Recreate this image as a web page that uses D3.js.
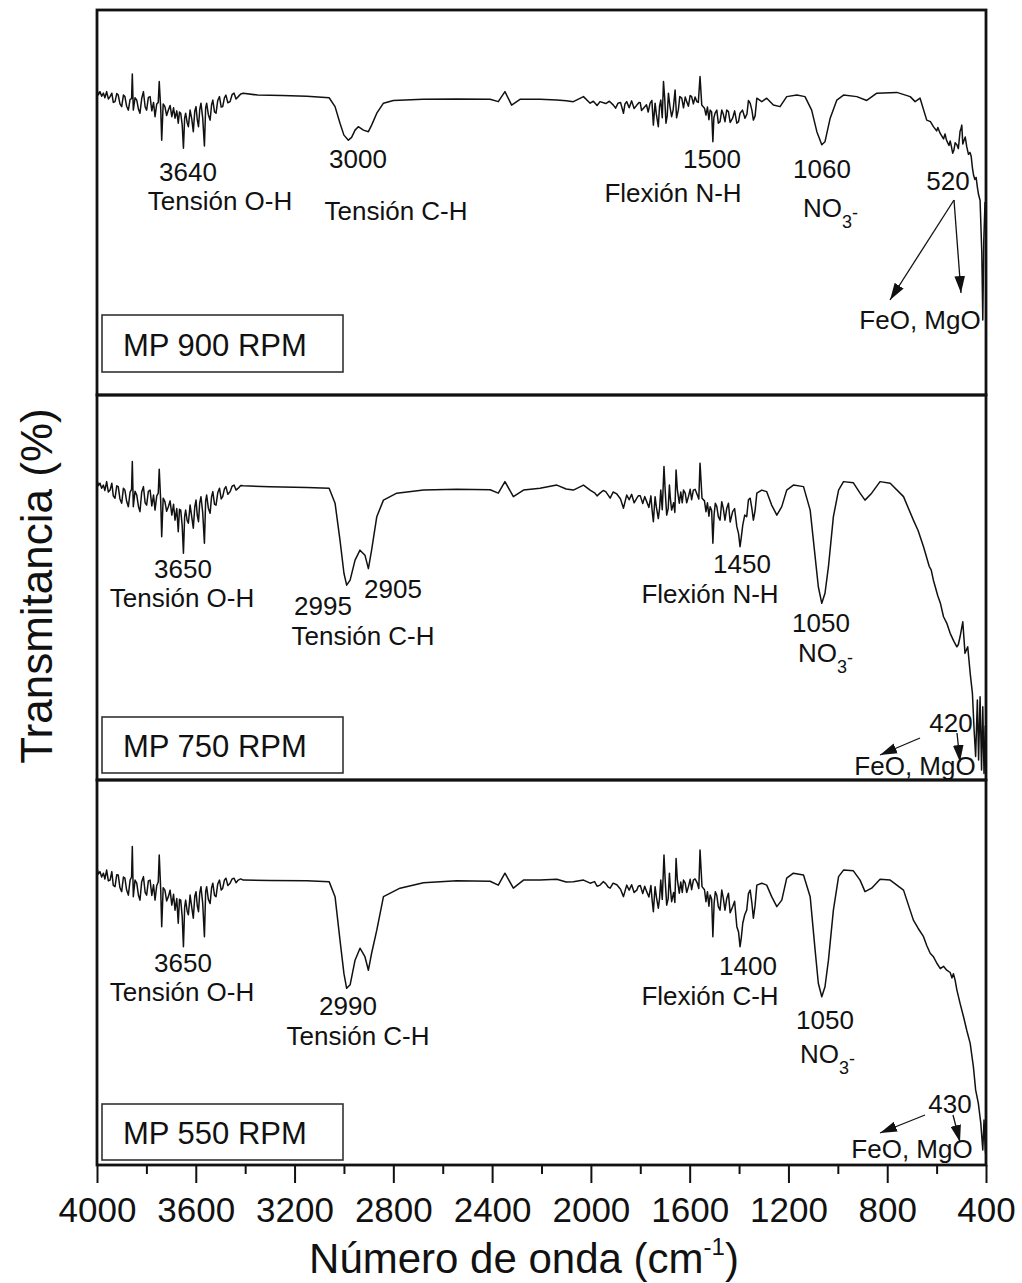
<!DOCTYPE html>
<html>
<head>
<meta charset="utf-8">
<script src="https://cdn.jsdelivr.net/npm/d3@7"></script>
<style>
  body { margin: 0; background: #fff; }
  svg { display: block; }
  text { font-family: "Liberation Sans", Arial, Helvetica, sans-serif; fill: #111; }
</style>
</head>
<body>
<svg id="chart" width="1022" height="1283"></svg>
<script>
// ---------- Data: FTIR spectra (wavenumber cm-1, transmittance %) ----------
const wavenumberTicks = [4000, 3600, 3200, 2800, 2400, 2000, 1600, 1200, 800, 400];
const minorTicks = [3800, 3400, 3000, 2600, 2200, 1800, 1400, 1000, 600];
const sampleNames = ["MP 900 RPM", "MP 750 RPM", "MP 550 RPM"];

const spectrum900 = [
  [4000,79.2],[3994,78.0],[3988,78.8],[3981,77.6],[3974,78.4],[3968,77.2],[3961,78.8],[3954,76.9],
  [3947,77.5],[3940,78.4],[3934,76.0],[3927,76.2],[3920,78.3],[3914,77.9],[3907,75.6],[3900,74.9],
  [3893,77.9],[3887,77.5],[3880,75.0],[3873,74.0],[3866,76.8],[3860,77.0],[3857,83.4],[3853,74.0],
  [3846,77.2],[3839,76.6],[3832,74.2],[3826,73.2],[3819,77.0],[3812,78.8],[3805,74.8],[3799,74.0],
  [3792,77.3],[3785,77.5],[3778,73.8],[3771,76.0],[3765,72.3],[3758,75.6],[3752,76.0],[3748,81.4],
  [3742,74.5],[3738,66.2],[3732,75.6],[3725,74.9],[3718,72.6],[3711,74.0],[3704,75.2],[3697,72.3],
  [3690,74.6],[3684,71.9],[3677,73.8],[3671,70.6],[3666,73.5],[3661,73.2],[3655,70.2],[3650,64.1],
  [3645,72.0],[3641,73.2],[3635,70.8],[3630,69.7],[3623,74.0],[3616,71.6],[3610,68.4],[3604,73.8],
  [3599,74.9],[3594,71.5],[3589,69.7],[3584,74.1],[3579,75.8],[3572,72.0],[3565,64.7],[3560,74.6],
  [3556,75.8],[3549,72.8],[3542,71.4],[3536,75.4],[3531,76.6],[3524,73.5],[3518,73.2],[3511,76.5],
  [3504,77.5],[3497,74.8],[3491,74.9],[3484,77.2],[3478,77.9],[3470,75.9],[3461,76.2],[3453,78.0],
  [3445,78.4],[3437,76.9],[3428,77.5],[3418,78.2],[3408,78.4],
  [3350,77.9],[3250,77.8],[3150,77.6],[3060,77.2],[3036,74.9],[3016,70.6],
  [3000,67.5],[2982,66.2],[2969,66.9],[2955,68.8],[2942,69.7],[2921,68.8],[2901,68.4],[2888,70.1],
  [2867,73.2],[2840,75.8],[2800,76.5],[2680,76.8],[2543,76.9],[2408,76.8],[2375,76.2],[2348,78.8],
  [2321,75.3],[2287,76.8],[2206,76.8],[2138,76.6],[2100,76.4],[2071,76.2],[2030,77.5],[2003,75.8],
  [1990,76.3],[1975,75.2],[1963,76.2],[1940,75.7],[1925,76.3],[1909,75.3],[1900,74.5],[1890,75.8],
  [1880,76.0],[1868,73.2],[1862,75.6],[1855,76.2],[1845,74.6],[1835,76.4],[1825,74.4],[1814,75.3],
  [1805,76.0],[1800,75.9],[1795,73.9],[1787,74.5],[1775,75.4],[1768,73.5],[1760,75.8],[1753,76.5],
  [1747,70.1],[1740,75.8],[1735,73.0],[1727,69.7],[1722,75.0],[1717,76.6],[1711,72.0],[1706,81.4],
  [1701,77.0],[1696,70.6],[1691,72.5],[1686,78.4],[1680,75.0],[1673,72.3],[1667,74.0],[1659,79.2],
  [1653,72.0],[1646,74.0],[1640,77.5],[1632,77.1],[1625,74.6],[1618,77.4],[1612,76.2],[1605,75.0],
  [1598,77.8],[1592,77.5],[1585,75.6],[1578,77.4],[1571,76.2],[1565,76.0],[1558,82.7],[1551,75.3],
  [1540,74.5],[1534,72.7],[1528,74.8],[1522,71.5],[1517,74.0],[1511,73.5],[1506,65.8],[1502,72.0],
  [1497,73.2],[1490,74.0],[1484,70.6],[1477,71.0],[1470,74.0],[1464,73.0],[1457,71.0],[1450,74.0],
  [1443,73.6],[1436,70.8],[1426,71.9],[1418,73.8],[1409,70.6],[1402,71.0],[1396,73.2],[1386,74.0],
  [1376,71.9],[1368,73.0],[1362,76.5],[1355,75.8],[1348,74.0],[1342,71.4],[1335,72.5],[1328,77.1],
  [1308,76.2],[1288,77.1],[1261,75.3],[1234,74.9],[1207,77.5],[1166,77.9],[1133,77.5],
  [1106,74.0],[1085,68.4],[1065,65.0],[1052,65.8],[1031,71.9],[1004,76.6],[977,77.9],[923,77.5],
  [883,76.5],[842,78.4],[761,78.6],[707,77.5],[687,76.2],[667,77.1],[640,71.4],[625,71.0],
  [613,69.7],[600,68.6],[595,69.5],[586,68.0],[572,66.5],[566,67.8],[560,66.2],[550,64.8],
  [545,66.0],[540,64.5],[535,62.8],[530,63.6],[525,65.5],[518,65.0],[512,64.0],[505,68.5],
  [502,69.0],[498,70.1],[494,65.2],[490,66.0],[484,67.0],[478,64.5],[471,62.5],[465,63.0],
  [460,62.0],[455,59.0],[450,57.0],[445,56.0],[440,56.5],[435,54.0],[430,52.0],[424,50.6],
  [417,37.0],[413,19.5],[409,40.0],[404,50.0],[400,46.0]
];

const spectrum750 = [
  [4000,77.9],[3994,76.5],[3988,77.1],[3981,75.8],[3974,76.6],[3968,75.2],[3961,77.5],[3954,74.8],
  [3947,75.3],[3940,77.1],[3934,73.8],[3927,73.2],[3920,76.4],[3914,76.2],[3907,73.0],[3900,71.9],
  [3893,75.8],[3887,75.3],[3880,72.4],[3873,71.0],[3866,74.8],[3860,75.5],[3857,82.7],[3853,71.0],
  [3846,75.0],[3839,74.0],[3832,71.0],[3826,69.7],[3819,74.8],[3812,76.2],[3805,72.0],[3799,71.4],
  [3792,75.0],[3785,75.3],[3778,71.2],[3771,74.0],[3765,70.1],[3758,73.8],[3752,74.5],[3748,80.7],
  [3742,72.5],[3738,63.2],[3732,73.2],[3725,72.3],[3718,69.8],[3711,71.0],[3704,72.5],[3697,68.8],
  [3690,71.6],[3684,67.5],[3677,70.5],[3671,64.5],[3666,70.3],[3661,70.1],[3655,66.0],[3650,58.9],
  [3645,68.5],[3641,70.1],[3635,67.4],[3630,66.7],[3623,71.4],[3616,68.2],[3610,65.4],[3604,71.0],
  [3599,72.7],[3594,68.8],[3589,67.1],[3584,72.0],[3579,73.6],[3572,69.5],[3565,61.5],[3560,72.5],
  [3556,74.0],[3549,70.6],[3542,69.3],[3536,73.6],[3531,74.9],[3524,71.6],[3518,71.4],[3511,74.6],
  [3504,75.8],[3497,73.0],[3491,73.6],[3484,75.6],[3478,76.2],[3470,74.2],[3461,74.9],[3453,76.3],
  [3445,76.6],[3437,75.3],[3428,75.8],[3418,76.5],[3408,76.4],
  [3300,76.2],[3150,76.0],[3060,75.8],[3036,71.9],[3016,62.3],[3000,53.7],
  [2989,50.6],[2975,51.9],[2955,57.1],[2935,59.7],[2915,58.4],[2901,54.9],[2888,59.7],[2867,68.4],
  [2840,72.7],[2786,74.5],[2678,75.3],[2543,75.5],[2408,75.4],[2375,74.5],[2348,77.5],[2314,73.6],
  [2273,75.3],[2206,75.8],[2138,76.6],[2100,75.6],[2071,75.3],[2030,76.6],[2003,75.3],[1985,74.6],
  [1975,73.8],[1963,74.5],[1950,75.2],[1940,74.9],[1930,74.0],[1922,73.2],[1910,74.8],[1895,74.3],
  [1880,73.0],[1868,70.6],[1855,74.0],[1845,72.8],[1835,74.2],[1825,72.0],[1814,73.2],[1808,73.8],
  [1800,73.8],[1790,71.8],[1782,73.6],[1774,72.3],[1765,70.8],[1757,73.8],[1752,70.0],[1747,67.1],
  [1740,73.6],[1735,71.0],[1727,67.9],[1722,70.5],[1717,75.3],[1711,70.2],[1704,81.4],[1699,75.0],
  [1693,68.8],[1687,70.5],[1682,76.6],[1678,73.0],[1673,70.1],[1665,72.0],[1660,69.5],[1655,80.5],
  [1650,75.5],[1642,71.9],[1636,74.8],[1630,72.0],[1625,75.3],[1618,74.5],[1612,72.0],[1605,73.6],
  [1598,75.5],[1592,72.8],[1585,75.3],[1578,75.5],[1569,74.0],[1563,73.0],[1558,82.3],[1550,73.2],
  [1540,72.5],[1534,69.7],[1528,72.0],[1522,68.5],[1517,71.0],[1511,70.0],[1506,61.5],[1501,69.0],
  [1496,71.9],[1490,71.0],[1484,68.4],[1477,67.5],[1470,72.3],[1464,70.6],[1457,67.5],[1450,70.5],
  [1443,71.9],[1436,67.0],[1426,69.7],[1418,70.5],[1409,65.8],[1402,64.0],[1396,60.6],[1391,63.0],
  [1385,66.2],[1377,68.8],[1369,68.4],[1362,72.8],[1355,73.2],[1348,70.5],[1342,67.5],[1335,70.0],
  [1328,74.5],[1308,75.3],[1288,74.9],[1268,71.4],[1247,68.8],[1227,71.0],[1207,75.3],[1180,76.6],
  [1139,76.2],[1112,70.1],[1092,58.0],[1079,50.2],[1065,45.9],[1052,48.5],[1038,55.4],[1018,68.4],
  [997,75.3],[977,77.5],[937,77.2],[910,74.5],[890,72.7],[863,74.5],[829,77.5],[788,77.1],
  [734,73.6],[694,67.5],[675,64.8],[653,60.6],[630,55.5],[622,54.6],[613,51.9],[595,47.8],
  [585,46.0],[572,42.4],[558,40.6],[545,38.1],[530,36.0],[518,34.6],[512,35.2],[505,37.2],
  [494,41.1],[485,32.9],[474,34.6],[464,27.7],[455,22.5],[448,12.8],[442,6.1],[435,20.8],
  [430,5.2],[424,21.6],[418,2.6],[413,19.0],[408,1.7],[403,14.0],[400,8.0]
];

const spectrum550 = [
  [4000,77.1],[3994,75.6],[3988,76.2],[3981,74.8],[3974,75.8],[3968,74.3],[3961,76.6],[3954,73.8],
  [3947,74.0],[3940,76.2],[3934,72.6],[3927,72.3],[3920,75.4],[3914,75.3],[3907,72.0],[3900,71.0],
  [3893,74.8],[3887,74.5],[3880,71.4],[3873,70.1],[3866,74.0],[3860,74.8],[3857,82.7],[3853,69.7],
  [3846,74.0],[3839,73.2],[3832,70.0],[3826,68.8],[3819,73.6],[3812,74.9],[3805,70.8],[3799,70.1],
  [3792,73.8],[3785,74.0],[3778,70.0],[3771,72.8],[3765,68.8],[3758,72.6],[3752,73.5],[3748,80.5],
  [3742,71.5],[3738,61.9],[3732,72.0],[3725,71.4],[3718,68.6],[3711,69.7],[3704,71.4],[3697,67.5],
  [3690,70.3],[3684,66.2],[3677,69.2],[3671,62.8],[3666,69.0],[3661,68.8],[3655,64.5],[3650,56.7],
  [3645,67.0],[3641,68.8],[3635,66.0],[3630,65.0],[3623,70.1],[3616,66.8],[3610,64.1],[3604,69.8],
  [3599,71.0],[3594,67.4],[3589,65.8],[3584,70.6],[3579,72.3],[3572,68.0],[3565,59.3],[3560,71.0],
  [3556,72.3],[3549,69.0],[3542,67.9],[3536,72.0],[3531,73.2],[3524,70.0],[3518,69.7],[3511,73.0],
  [3504,74.0],[3497,71.4],[3491,71.9],[3484,74.0],[3478,74.5],[3470,72.6],[3461,73.2],[3453,74.3],
  [3445,74.5],[3437,73.3],[3428,74.0],[3418,74.3],[3408,74.0],
  [3300,73.9],[3150,73.8],[3060,73.6],[3036,69.7],[3016,58.4],[3000,49.7],
  [2989,45.9],[2975,46.8],[2955,53.2],[2935,56.3],[2915,54.1],[2901,50.6],[2888,55.0],[2867,61.0],
  [2840,69.7],[2773,71.9],[2678,73.3],[2543,73.8],[2408,73.7],[2375,72.7],[2348,75.8],[2314,71.9],
  [2273,74.0],[2206,74.0],[2138,74.2],[2100,73.5],[2071,73.6],[2030,74.0],[2003,73.2],[1985,73.6],
  [1975,72.4],[1963,72.7],[1950,73.6],[1940,73.1],[1930,72.2],[1922,71.9],[1910,73.2],[1895,72.8],
  [1880,71.6],[1868,69.7],[1855,72.7],[1845,71.4],[1835,72.8],[1825,70.8],[1814,71.4],[1808,72.4],
  [1800,72.6],[1790,70.5],[1782,72.4],[1774,71.0],[1765,69.6],[1757,72.6],[1752,68.8],[1747,65.8],
  [1740,72.3],[1735,69.8],[1727,66.7],[1722,69.2],[1717,74.0],[1711,69.0],[1704,80.5],[1699,73.8],
  [1693,67.5],[1687,69.2],[1682,75.8],[1678,71.8],[1673,68.4],[1665,70.8],[1660,68.2],[1655,79.6],
  [1650,74.2],[1642,70.6],[1636,73.5],[1630,70.8],[1625,74.0],[1618,73.2],[1612,70.8],[1605,72.3],
  [1598,74.2],[1592,71.5],[1585,74.0],[1578,74.3],[1569,73.2],[1563,71.8],[1558,81.8],[1550,72.3],
  [1540,71.5],[1534,68.4],[1528,71.0],[1522,67.2],[1517,70.1],[1511,69.0],[1506,59.3],[1501,68.0],
  [1496,71.0],[1490,70.0],[1484,67.1],[1477,66.2],[1470,71.4],[1464,69.4],[1457,66.2],[1450,69.2],
  [1443,70.6],[1436,65.5],[1426,67.1],[1418,68.5],[1409,61.9],[1402,60.5],[1396,56.7],[1391,59.0],
  [1385,62.8],[1377,65.0],[1369,66.2],[1362,70.5],[1355,71.4],[1348,68.0],[1342,64.1],[1335,67.5],
  [1328,72.7],[1308,73.2],[1288,72.7],[1268,69.7],[1247,67.1],[1227,68.8],[1207,74.5],[1180,75.8],
  [1139,75.3],[1112,69.7],[1092,55.8],[1079,47.2],[1065,43.7],[1052,46.3],[1038,53.2],[1018,66.2],
  [997,74.9],[977,76.6],[937,76.4],[910,74.0],[890,71.0],[863,71.9],[829,74.2],[788,74.0],
  [734,71.4],[694,63.6],[675,61.5],[653,59.3],[640,57.0],[626,55.0],[612,54.0],[599,52.4],
  [585,51.0],[572,51.6],[559,50.6],[545,50.0],[538,48.6],[532,49.7],[525,48.0],[518,45.5],
  [505,42.0],[491,38.5],[478,35.0],[464,31.6],[451,25.5],[442,19.5],[431,16.0],[421,10.8],
  [413,3.9],[408,11.7],[403,4.0],[400,2.0]
];

// ---------- Layout ----------
const plotLeft = 97, plotRight = 986;
const panelEdges = [10, 395, 780, 1165];
const fontMain = 26;

const svg = d3.select("#chart");
const x = d3.scaleLinear().domain([4000, 400]).range([plotLeft, plotRight]);

const defs = svg.append("defs");
defs.append("marker")
  .attr("id", "arrowhead")
  .attr("viewBox", "0 0 16 10")
  .attr("refX", 16).attr("refY", 5)
  .attr("markerUnits", "userSpaceOnUse")
  .attr("markerWidth", 17).attr("markerHeight", 11)
  .attr("orient", "auto")
  .append("path").attr("d", "M0,0 L16,5 L0,10 Z").attr("fill", "#111");

// Peak annotations per panel (page pixel layout)
const annotations = [
  [
    {t: "3640", x: 188, y: 181}, {t: "Tensión O-H", x: 220, y: 210},
    {t: "3000", x: 358, y: 168}, {t: "Tensión C-H", x: 396, y: 220},
    {t: "1500", x: 712, y: 168}, {t: "Flexión N-H", x: 673, y: 202},
    {t: "1060", x: 822, y: 178}, {no3: true, x: 803, y: 217},
    {t: "520", x: 948, y: 190}, {t: "FeO, MgO", x: 920, y: 329}
  ],
  [
    {t: "3650", x: 183, y: 578}, {t: "Tensión O-H", x: 182, y: 607},
    {t: "2995", x: 323, y: 615}, {t: "2905", x: 393, y: 598},
    {t: "Tensión C-H", x: 363, y: 645},
    {t: "1450", x: 742, y: 573}, {t: "Flexión N-H", x: 710, y: 603},
    {t: "1050", x: 821, y: 632}, {no3: true, x: 798, y: 662},
    {t: "420", x: 951, y: 732}, {t: "FeO, MgO", x: 915, y: 775}
  ],
  [
    {t: "3650", x: 183, y: 972}, {t: "Tensión O-H", x: 182, y: 1001},
    {t: "2990", x: 348, y: 1015}, {t: "Tensión C-H", x: 358, y: 1045},
    {t: "1400", x: 748, y: 975}, {t: "Flexión C-H", x: 710, y: 1005},
    {t: "1050", x: 825, y: 1029}, {no3: true, x: 800, y: 1063},
    {t: "430", x: 950, y: 1113}, {t: "FeO, MgO", x: 912, y: 1158}
  ]
];
const arrows = [
  [[954, 200, 890, 300], [954, 200, 961, 293]],
  [[920, 738, 880, 755], [957, 733, 960, 762]],
  [[925, 1115, 880, 1133], [953, 1115, 960, 1142]]
];
const legendBoxes = [
  {x: 102, y: 315, w: 241, h: 57},
  {x: 102, y: 717, w: 241, h: 56},
  {x: 102, y: 1104, w: 241, h: 56}
];

const spectra = [spectrum900, spectrum750, spectrum550];

spectra.forEach((data, i) => {
  const top = panelEdges[i], bottom = panelEdges[i + 1];
  const y = d3.scaleLinear().domain([0, 100]).range([bottom, top]);
  const ordered = data.slice().sort((a, b) => b[0] - a[0]);

  defs.append("clipPath").attr("id", "clip" + i)
    .append("rect").attr("x", plotLeft).attr("y", top)
    .attr("width", plotRight - plotLeft).attr("height", bottom - top);

  const line = d3.line().x(d => x(d[0])).y(d => y(d[1]));
  svg.append("path")
    .datum(ordered)
    .attr("clip-path", `url(#clip${i})`)
    .attr("d", line)
    .attr("fill", "none")
    .attr("stroke", "#111")
    .attr("stroke-width", 1.5)
    .attr("stroke-linejoin", "round");

  // sample label box
  const b = legendBoxes[i];
  svg.append("rect").attr("x", b.x).attr("y", b.y).attr("width", b.w).attr("height", b.h)
    .attr("fill", "#fff").attr("stroke", "#333").attr("stroke-width", 1.6);
  svg.append("text").attr("x", b.x + 21).attr("y", b.y + b.h - 16)
    .attr("font-size", 31).text(sampleNames[i]);

  // peak annotations
  annotations[i].forEach(a => {
    if (a.no3) {
      const t = svg.append("text").attr("x", a.x).attr("y", a.y).attr("font-size", fontMain);
      t.append("tspan").text("NO");
      t.append("tspan").attr("font-size", 18).attr("dy", 11).text("3");
      t.append("tspan").attr("font-size", 18).attr("dy", -9).text("-");
    } else {
      svg.append("text").attr("x", a.x).attr("y", a.y)
        .attr("text-anchor", "middle").attr("font-size", fontMain).text(a.t);
    }
  });
  arrows[i].forEach(a => {
    svg.append("line").attr("x1", a[0]).attr("y1", a[1]).attr("x2", a[2]).attr("y2", a[3])
      .attr("stroke", "#111").attr("stroke-width", 1.3).attr("marker-end", "url(#arrowhead)");
  });
});

// Panel frames
panelEdges.slice(0, 3).forEach((t, i) => {
  svg.append("rect").attr("x", plotLeft).attr("y", t)
    .attr("width", plotRight - plotLeft).attr("height", panelEdges[i + 1] - t)
    .attr("fill", "none").attr("stroke", "#111").attr("stroke-width", 2.8);
});

// X axis
const axisY = panelEdges[3];
const gMinor = svg.append("g").attr("transform", `translate(0,${axisY})`)
  .call(d3.axisBottom(x).tickValues(minorTicks).tickSize(9).tickFormat(""));
gMinor.select(".domain").remove();
gMinor.selectAll("line").attr("stroke", "#111").attr("stroke-width", 2);

const gMajor = svg.append("g").attr("transform", `translate(0,${axisY})`)
  .call(d3.axisBottom(x).tickValues(wavenumberTicks).tickSize(18).tickPadding(14).tickFormat(d => d));
gMajor.select(".domain").remove();
gMajor.selectAll("line").attr("stroke", "#111").attr("stroke-width", 2);
gMajor.selectAll("text").attr("font-size", 35).attr("fill", "#111")
  .style("font-family", '"Liberation Sans", Arial, sans-serif');

// Axis titles
const xt = svg.append("text").attr("x", 524).attr("y", 1273)
  .attr("text-anchor", "middle").attr("font-size", 42);
xt.append("tspan").text("Número de onda (cm");
xt.append("tspan").attr("font-size", 24).attr("dy", -18).text("-1");
xt.append("tspan").attr("dy", 18).text(")");

svg.append("text")
  .attr("transform", "translate(52,586) rotate(-90)")
  .attr("text-anchor", "middle").attr("font-size", 44)
  .text("Transmitancia (%)");
</script>
</body>
</html>
